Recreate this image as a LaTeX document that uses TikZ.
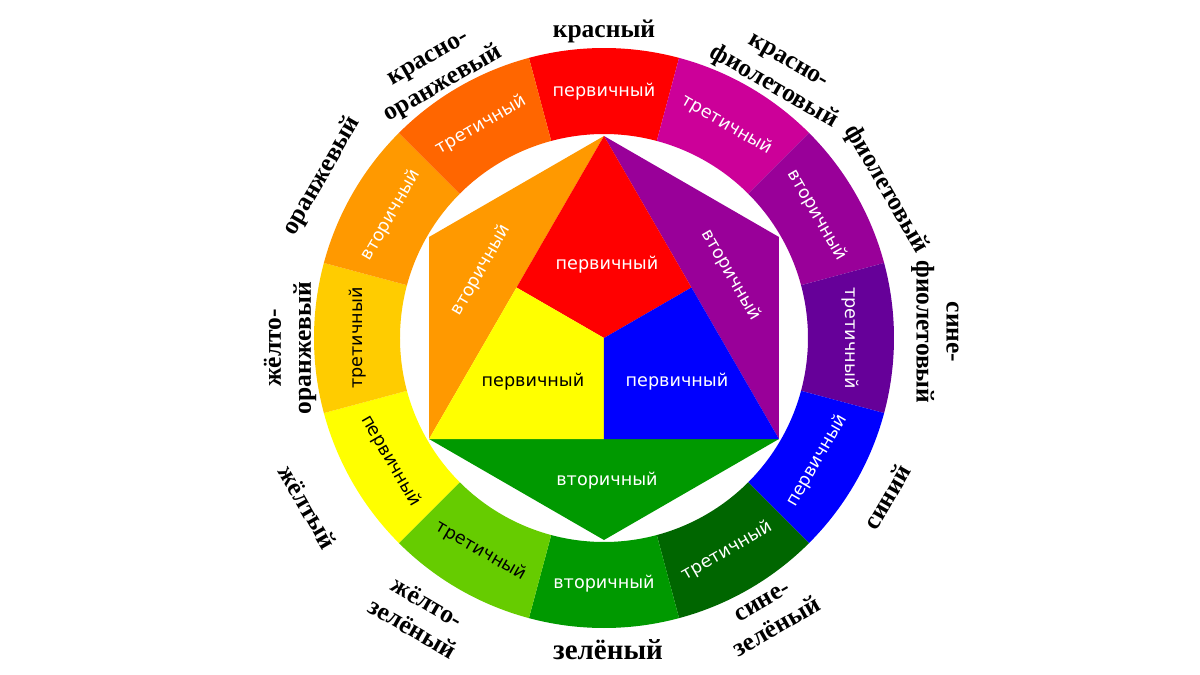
\documentclass[tikz,border=0pt]{standalone}
\usepackage{fontspec}
\setmainfont{Liberation Serif}
\newfontfamily\lblfont{DejaVu Sans}
\definecolor{cR}{HTML}{FF0000}
\definecolor{cRV}{HTML}{CC0099}
\definecolor{cV}{HTML}{990099}
\definecolor{cBV}{HTML}{660099}
\definecolor{cB}{HTML}{0000FF}
\definecolor{cBG}{HTML}{006600}
\definecolor{cG}{HTML}{009900}
\definecolor{cYG}{HTML}{66CC00}
\definecolor{cY}{HTML}{FFFF00}
\definecolor{cYO}{HTML}{FFCC00}
\definecolor{cO}{HTML}{FF9900}
\definecolor{cRO}{HTML}{FF6600}
\begin{document}
\begin{tikzpicture}[x=1pt,y=1pt,
  seglbl/.style={font=\lblfont\fontsize{17.6}{20}\selectfont, inner sep=0pt},
  outlbl/.style={font=\bfseries\fontsize{25.5}{30}\selectfont, align=center, inner sep=0pt}]
\useasboundingbox (-604,-337) rectangle (596,338);
\fill[white] (-604,-337) rectangle (596,338);
\def\Rin{204}
\def\Rout{290}
\def\Rh{202}
\def\Rt{246}
% ring segments
\foreach \a/\c/\t/\tc/\r/\n in {
  90/cR/первичный/white/0/s1,
  60/cRV/третичный/white/-30/s2,
  30/cV/вторичный/white/-60/s3,
  0/cBV/третичный/white/-90/s4,
  -30/cB/первичный/white/60/s5,
  -60/cBG/третичный/white/30/s6,
  -90/cG/вторичный/white/0/s7,
  -120/cYG/третичный/black/-30/s8,
  -150/cY/первичный/black/-60/s9,
  180/cYO/третичный/black/90/s10,
  150/cO/вторичный/white/60/s11,
  120/cRO/третичный/white/30/s12} {
  \fill[\c] (\a-15:\Rin pt) -- (\a-15:\Rout pt)
    arc[start angle=\a-15, end angle=\a+15, radius=\Rout pt]
    -- (\a+15:\Rin pt)
    arc[start angle=\a+15, end angle=\a-15, radius=\Rin pt] -- cycle;
  \node[seglbl, text=\tc, rotate=\r] (\n) at (\a:\Rt pt) {\t};
}
% hexagon points
\coordinate (T) at (90:\Rh pt);
\coordinate (HR) at (30:\Rh pt);
\coordinate (BR) at (-30:\Rh pt);
\coordinate (B) at (-90:\Rh pt);
\coordinate (BL) at (210:\Rh pt);
\coordinate (HL) at (150:\Rh pt);
\coordinate (C) at (0,0);
\coordinate (ML) at (150:101pt);
\coordinate (MR) at (30:101pt);
\coordinate (MB) at (-90:101pt);
\fill[cO] (T) -- (HL) -- (BL) -- cycle;
\fill[cV] (T) -- (HR) -- (BR) -- cycle;
\fill[cG] (BL) -- (B) -- (BR) -- cycle;
\fill[cR] (T) -- (MR) -- (C) -- (ML) -- cycle;
\fill[cY] (BL) -- (ML) -- (C) -- (MB) -- cycle;
\fill[cB] (BR) -- (MB) -- (C) -- (MR) -- cycle;
\node[seglbl, text=white] (pR) at (3,73) {первичный};
\node[seglbl, text=black] (pY) at (-71,-44) {первичный};
\node[seglbl, text=white] (pB) at (73,-44) {первичный};
\node[seglbl, text=white] (vG) at (3,-143) {вторичный};
\node[seglbl, text=white, rotate=60] (vO) at (-123,68) {вторичный};
\node[seglbl, text=white, rotate=-60] (vV) at (127,63) {вторичный};
% outer labels
\node[outlbl] (o1) at (0,307) {красный};
\node[outlbl, rotate=-30] (o2) at (176,262) {красно-\\фиолетовый};
\node[outlbl, rotate=-60] (o3) at (282,149) {фиолетовый};
\node[outlbl, rotate=-90] (o4) at (331,6) {сине-\\фиолетовый};
\node[outlbl, rotate=60] (o5) at (283,-159) {синий};
\node[outlbl, rotate=30] (o6) at (166,-277) {сине-\\зелёный};
\node[outlbl, font=\bfseries\fontsize{29}{32}\selectfont] (o7) at (4,-312) {зелёный};
\node[outlbl, rotate=-30] (o8) at (-184,-277) {жёлто-\\зелёный};
\node[outlbl, rotate=-60] (o9) at (-296,-169) {жёлтый};
\node[outlbl, rotate=90] (o10) at (-314,-10) {жёлто-\\оранжевый};
\node[outlbl, rotate=60] (o11) at (-282,162) {оранжевый};
\node[outlbl, rotate=30] (o12) at (-167,265) {красно-\\оранжевый};
\end{tikzpicture}
\end{document}
